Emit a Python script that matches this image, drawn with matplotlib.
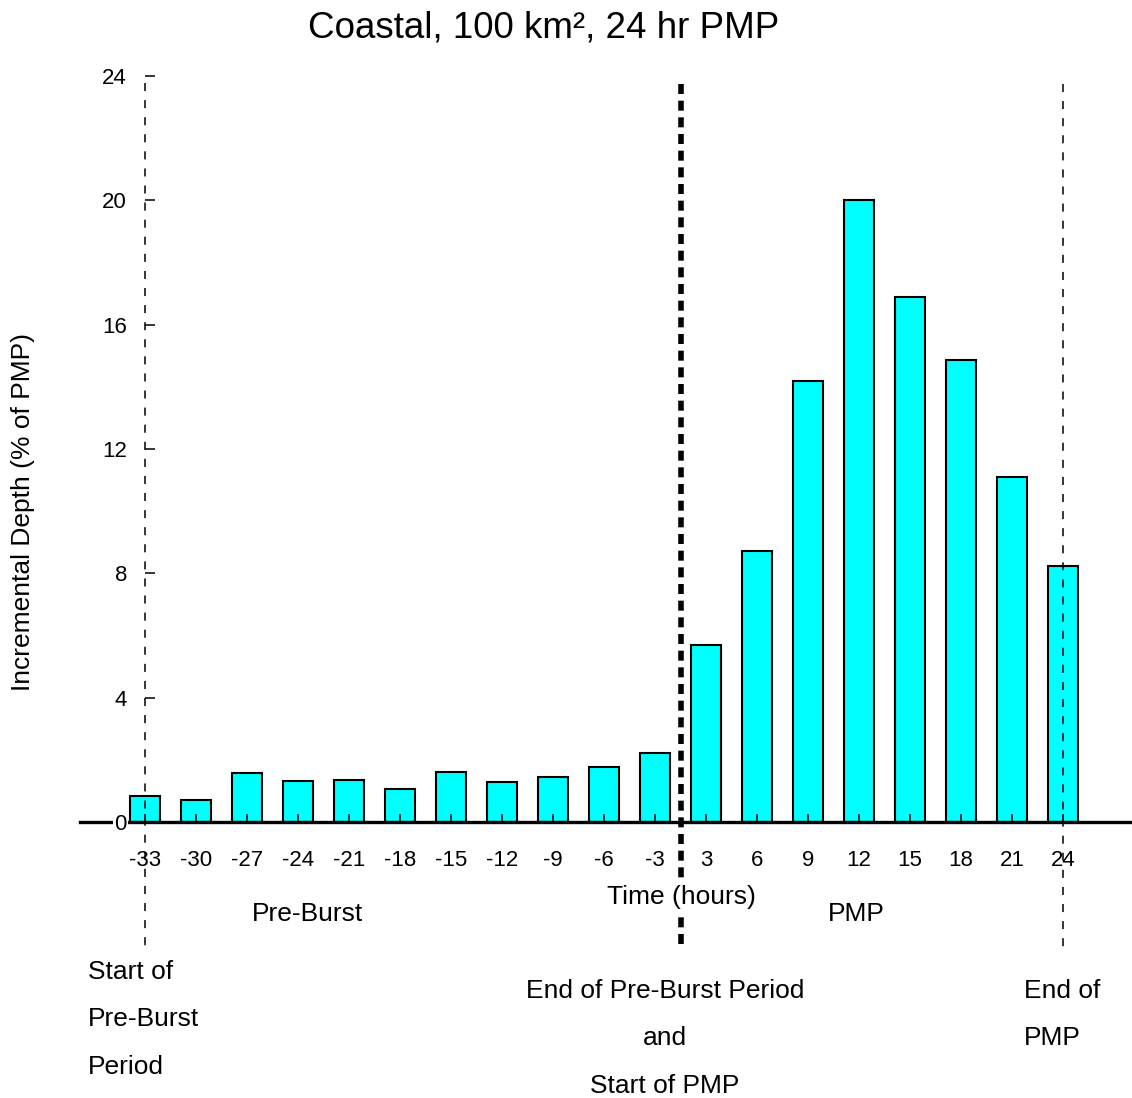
import matplotlib
matplotlib.use("Agg")
import matplotlib.pyplot as plt
import numpy as np

plt.rcParams['font.family'] = ['Liberation Sans', 'DejaVu Sans']
plt.rcParams['lines.scale_dashes'] = False

# Data
time_labels = ["-33", "-30", "-27", "-24", "-21", "-18", "-15", "-12", "-9", "-6", "-3",
               "3", "6", "9", "12", "15", "18", "21", "24"]
depth = [0.84, 0.71, 1.57, 1.32, 1.34, 1.07, 1.61, 1.30, 1.46, 1.76, 2.21,
         5.71, 8.71, 14.18, 20.0, 16.9, 14.86, 11.09, 8.23]
y_ticks = [0, 4, 8, 12, 16, 20, 24]

W, H = 1132, 1098
fig = plt.figure(figsize=(W / 100, H / 100), dpi=100)

# axes: left edge at px 80, right at 1132; y=24 at px 76, y=0 at px 822
ax = fig.add_axes([80 / W, (H - 822) / H, (W - 80) / W, (822 - 76) / H])
xpos = np.arange(len(depth))
px_per_slot = 51.0
ax.set_xlim((80 - 145) / px_per_slot, (1132 - 145) / px_per_slot)
ax.set_ylim(0, 24)

ax.bar(xpos, depth, width=0.57, color='#00FFFF', edgecolor='black', linewidth=1.5, zorder=2)

# spines
for s in ['top', 'right']:
    ax.spines[s].set_visible(False)
ax.spines['left'].set_position(('data', 0))
ax.spines['left'].set_visible(False)
ax.spines['bottom'].set_position(('data', 0))
ax.spines['bottom'].set_linewidth(2.4)
ax.spines['bottom'].set_zorder(4)

ax.set_xticks(xpos)
ax.set_xticklabels(time_labels)
ax.set_yticks(y_ticks)
ax.set_yticklabels([str(v) for v in y_ticks])
ax.tick_params(axis='x', direction='in', length=5.8, width=1.1, pad=20, labelsize=16)
ax.tick_params(axis='y', direction='in', length=7.2, width=1.1, pad=13, labelsize=16)
ax.yaxis.set_zorder(5)
ax.xaxis.set_zorder(3)
ax.get_yticklabels()[0].set_bbox(dict(facecolor='white', edgecolor='none', pad=1.0))

unit = 31.08  # px per data unit in y
def ydat(py):
    return (822 - py) / unit

# vertical reference lines
ax.plot([0, 0], [ydat(83), ydat(950)], color='black', lw=1.1,
        linestyle=(0, (5.8, 6.5)), clip_on=False, zorder=6)
ax.plot([18, 18], [ydat(84), ydat(948)], color='black', lw=1.1,
        linestyle=(0, (5.8, 6.5)), clip_on=False, zorder=6)
ax.plot([10.5, 10.5], [ydat(84), ydat(948)], color='black', lw=4.0,
        linestyle=(0, (7.2, 4.8)), clip_on=False, zorder=6)

# labels
fs = 19
ls = 2.23
ax.text((681 - 145) / px_per_slot, ydat(897), "Time (hours)", ha='center', va='center',
        fontsize=fs, zorder=7, bbox=dict(facecolor='white', edgecolor='none', pad=1.5))
ax.text((307 - 145) / px_per_slot, ydat(914), "Pre-Burst", ha='center', va='center', fontsize=fs)
ax.text((856 - 145) / px_per_slot, ydat(914), "PMP", ha='center', va='center', fontsize=fs)

ax.text((88 - 145) / px_per_slot, ydat(960), "Start of\nPre-Burst\nPeriod", ha='left', va='top',
        fontsize=fs, linespacing=ls)
ax.text((665 - 145) / px_per_slot, ydat(979), "End of Pre-Burst Period\nand\nStart of PMP",
        ha='center', va='top', fontsize=fs, linespacing=ls, multialignment='center')
ax.text((1024 - 145) / px_per_slot, ydat(979), "End of\nPMP", ha='left', va='top',
        fontsize=fs, linespacing=ls)

fig.text(544 / W, 1 - 28 / H, "Coastal, 100 km², 24 hr PMP", ha='center', va='center', fontsize=26.5)
fig.text(23 / W, 1 - 512 / H, "Incremental Depth (% of PMP)", ha='center', va='center',
         rotation=90, fontsize=fs)

fig.savefig("out.png", dpi=100)
